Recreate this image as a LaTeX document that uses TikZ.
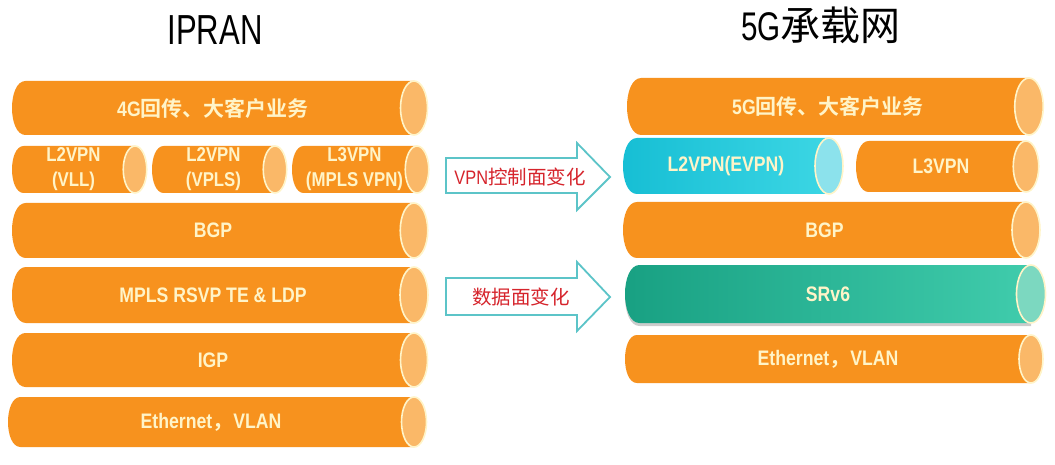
\documentclass[tikz,border=0pt]{standalone}
\usepackage{fontspec}
\usepackage{tikz}
\usetikzlibrary{shadows}
\newfontfamily\cjk{Noto Sans CJK SC}[BoldFont={Noto Sans CJK SC Bold}]
\newfontfamily\labfont{Liberation Sans}[FakeStretch=0.84,BoldFont={Liberation Sans Bold},BoldFeatures={FakeStretch=0.84}]
\newfontfamily\titlefont{Liberation Sans}[FakeStretch=0.74]
\definecolor{NaranjaTubo}{RGB}{247,146,30}
\definecolor{NaranjaTapa}{RGB}{250,184,104}
\definecolor{CremaTexto}{RGB}{255,244,200}
\definecolor{CianA}{RGB}{22,190,212}
\definecolor{CianB}{RGB}{60,214,228}
\definecolor{CianTapa}{RGB}{140,226,236}
\definecolor{VerdeA}{RGB}{24,160,130}
\definecolor{VerdeB}{RGB}{64,204,172}
\definecolor{VerdeTapa}{RGB}{124,216,192}
\definecolor{BordeFlecha}{RGB}{92,196,200}
\definecolor{RojoTexto}{RGB}{214,36,44}

% tubo: nombre, x izq, y sup, x tapa, y inf, relleno cuerpo, color tapa, texto
\newcommand{\tubo}[8]{%
  \pgfmathsetmacro\tuboRy{(#5-#3)/2}
  \pgfmathsetmacro\tuboRx{0.5*\tuboRy}
  \pgfmathsetmacro\tuboYc{(#3+#5)/2}
  \pgfmathsetmacro\tuboXa{#2+\tuboRx}
  \pgfmathsetmacro\tuboXc{#2-\tuboRx/3}
  \path[#6] (\tuboXa,#3) -- (#4,#3) -- (#4,#5) -- (\tuboXa,#5)
    .. controls (\tuboXc,#5) and (\tuboXc,#3) .. (\tuboXa,#3) -- cycle;
  \draw[tapa, fill=#7] (#4,\tuboYc) ellipse [x radius=\tuboRx, y radius=\tuboRy];
  \node[tubotexto] (#1) at ({(#2+#4)/2},\tuboYc) {#8};
}

\begin{document}
\begin{tikzpicture}[x=1pt,y=-1pt,
    tapa/.style={draw=CremaTexto,line width=1.6pt},
    naranja/.style={fill=NaranjaTubo},
    cian/.style={left color=CianA,right color=CianB},
    verde/.style={left color=VerdeA,right color=VerdeB,
      drop shadow={shadow xshift=0pt,shadow yshift=-3pt,opacity=0.4}},
    tubotexto/.style={text=CremaTexto,align=center,inner sep=0pt,
      font=\labfont\bfseries\fontsize{21}{24}\selectfont},
    flecha/.style={draw=BordeFlecha,line width=1.8pt,fill=white,line join=miter},
    flechatexto/.style={text=RojoTexto,inner sep=0pt,
      font=\labfont\fontsize{19.5}{22}\selectfont}]
  \useasboundingbox (0,0) rectangle (1055,465);

  % titulos
  \node[font=\titlefont\fontsize{42}{46}\selectfont] (tipran) at (215,30) {IPRAN};
  \node[font=\titlefont\fontsize{40}{44}\selectfont] (t5g) at (821,25) {5G{\cjk 承载网}};

  % pila IPRAN
  \tubo{p4g}{12}{81}{414}{135}{naranja}{NaranjaTapa}{4G{\cjk 回传、大客户业务}}
  \begin{scope}[tubotexto/.append style={font=\labfont\bfseries\fontsize{20}{25}\selectfont}]
    \tubo{pvll}{12}{146}{135}{193}{naranja}{NaranjaTapa}{L2VPN\\(VLL)}
    \tubo{pvpls}{152}{146}{275}{193}{naranja}{NaranjaTapa}{L2VPN\\(VPLS)}
    \tubo{pl3vpn}{292}{146}{417}{193}{naranja}{NaranjaTapa}{L3VPN\\(MPLS VPN)}
  \end{scope}
  \tubo{pbgp}{12}{203}{414}{258}{naranja}{NaranjaTapa}{BGP}
  \tubo{pmpls}{12}{267}{414}{323}{naranja}{NaranjaTapa}{MPLS RSVP TE \& LDP}
  \tubo{pigp}{12}{333}{414}{387}{naranja}{NaranjaTapa}{IGP}
  \tubo{peth}{8}{397}{414}{447}{naranja}{NaranjaTapa}{Ethernet{\cjk ，}VLAN}

  % pila 5G
  \tubo{q5g}{627}{78}{1029}{135}{naranja}{NaranjaTapa}{5G{\cjk 回传、大客户业务}}
  \tubo{qevpn}{623}{138}{829}{194}{cian}{CianTapa}{L2VPN(EVPN)}
  \tubo{ql3vpn}{856}{141}{1026}{192}{naranja}{NaranjaTapa}{L3VPN}
  \tubo{qbgp}{623}{202}{1026}{258}{naranja}{NaranjaTapa}{BGP}
  \tubo{qsrv6}{625}{265}{1031}{323}{verde}{VerdeTapa}{SRv6}
  \tubo{qeth}{625}{335}{1031}{383}{naranja}{NaranjaTapa}{Ethernet{\cjk ，}VLAN}

  % flechas de cambio
  \draw[flecha] (446,158) -- (577,158) -- (577,143) -- (610,177)
    -- (577,210) -- (577,193) -- (446,193) -- cycle;
  \node[flechatexto] (actl) at (520,177) {VPN{\cjk 控制面变化}};
  \draw[flecha] (446,278) -- (577,278) -- (577,262) -- (610,297)
    -- (577,331) -- (577,315) -- (446,315) -- cycle;
  \node[flechatexto] (adata) at (521,297) {{\cjk 数据面变化}};
\end{tikzpicture}
\end{document}
